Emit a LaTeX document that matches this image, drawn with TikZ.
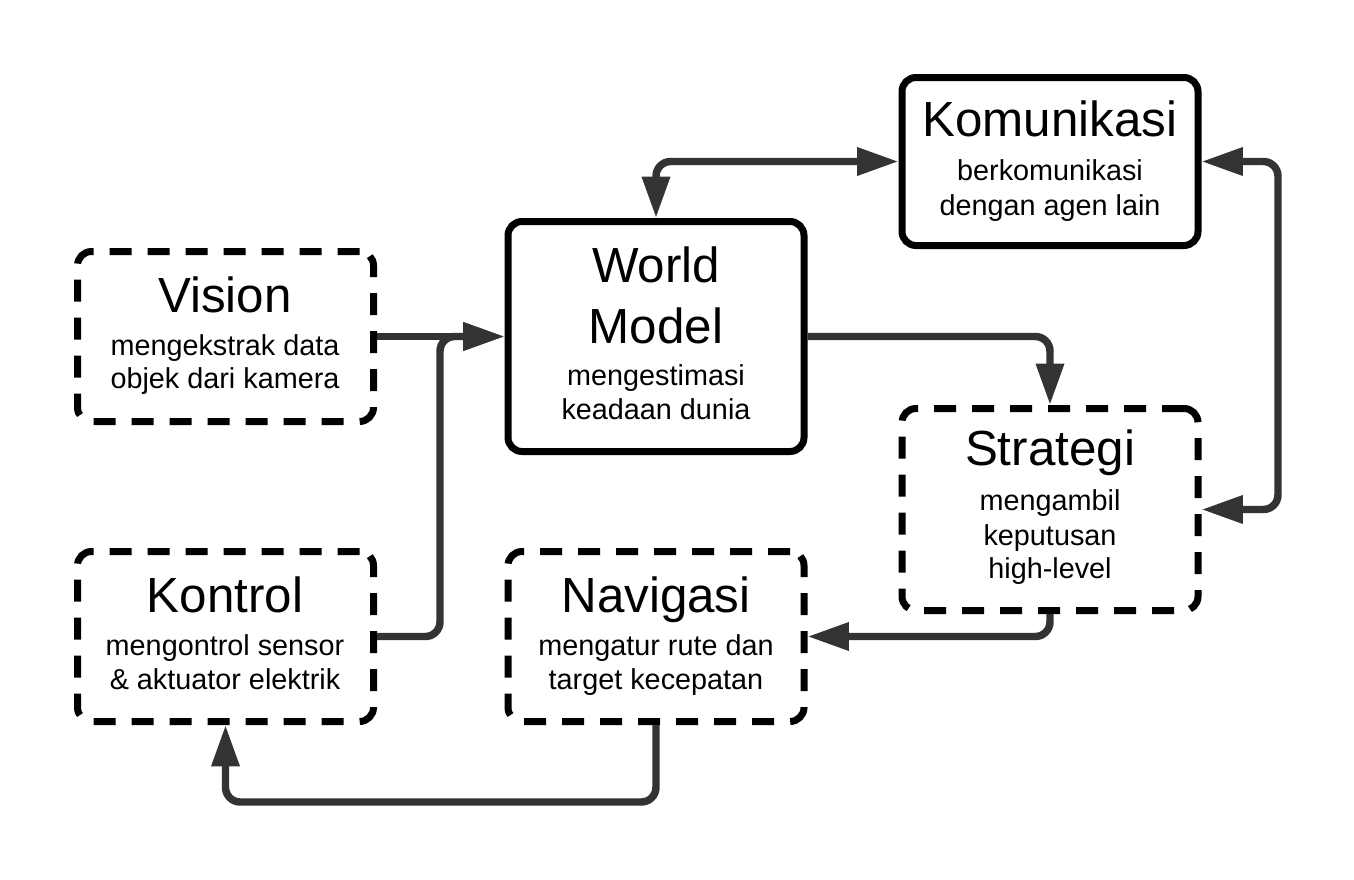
\documentclass[tikz,border=0pt]{standalone}
\usepackage{fontspec}
\setmainfont{Liberation Sans}
\usetikzlibrary{arrows.meta}
\definecolor{connc}{HTML}{333333}
\begin{document}
\begin{tikzpicture}[x=0.75pt,y=-0.75pt,
  box/.style={draw=black, line width=5.25pt, rounded corners=10.5pt, minimum width=222pt, inner sep=0pt},
  dbox/.style={box, dash pattern=on 16.5pt off 12pt},
  ttl/.style={anchor=base, font=\fontsize{37}{44}\selectfont, inner sep=0pt},
  sub/.style={anchor=base, font=\fontsize{21.6}{26}\selectfont, inner sep=0pt},
  tip/.tip={Triangle[length=31pt,width=20pt]},
  conn/.style={draw=connc, fill=none, line width=5.6pt, rounded corners=11pt, -tip},
  conn2/.style={conn, tip-tip},
]
\fill[white] (0,0) rectangle (1354,879);
\useasboundingbox (0,0) rectangle (1354,879);

% boxes
\node[dbox, minimum height=127.5pt] (vision) at (225.5,336.5) {};
\node[dbox, minimum height=127.5pt] (kontrol) at (225.5,636.5) {};
\node[box,  minimum height=172.5pt] (wm) at (656,336.5) {};
\node[dbox, minimum height=127.5pt] (navi) at (656,636.5) {};
\node[box,  minimum height=126pt] (komu) at (1050,161.5) {};
\node[dbox, minimum height=151.5pt] (strat) at (1050,509.5) {};

% texts
\node[ttl] (visionT) at (225,312) {Vision};
\node[sub] (visionS1) at (225,355) {mengekstrak data};
\node[sub] (visionS2) at (225,388) {objek dari kamera};

\node[ttl] (kontrolT) at (225,612) {Kontrol};
\node[sub] (kontrolS1) at (225,655) {mengontrol sensor};
\node[sub] (kontrolS2) at (225,689) {\& aktuator elektrik};

\node[ttl] (naviT) at (656,612) {Navigasi};
\node[sub] (naviS1) at (656,655) {mengatur rute dan};
\node[sub] (naviS2) at (656,689) {target kecepatan};

\node[ttl] (wmT1) at (656,282) {World};
\node[ttl] (wmT2) at (656,343) {Model};
\node[sub] (wmS1) at (656,385) {mengestimasi};
\node[sub] (wmS2) at (656,419) {keadaan dunia};

\node[ttl] (komuT) at (1050,136) {Komunikasi};
\node[sub] (komuS1) at (1050,180) {berkomunikasi};
\node[sub] (komuS2) at (1050,215) {dengan agen lain};

\node[ttl] (stratT) at (1050,465) {Strategi};
\node[sub] (stratS1) at (1050,510) {mengambil};
\node[sub] (stratS2) at (1050,545) {keputusan};
\node[sub] (stratS3) at (1050,578) {high-level};

% helper coordinates
\coordinate (jn) at (440,336.5);
\coordinate (rr) at (1278,336.5);
\coordinate (bot) at (440,802);

% connectors
\draw[conn] (kontrol.east) -| (jn) -- (jn -| wm.west);
\draw[conn] (vision.east) -- (vision.east -| wm.west);
\draw[conn] (wm.east) -| (strat.north);
\draw[conn2] (komu.west) -| (wm.north);
\draw[conn2] (komu.east) -- (komu.east -| rr) -- (strat.east -| rr) -- (strat.east);
\draw[conn] (strat.south) |- (navi.east);
\draw[conn] (navi.south) -- (navi.south |- bot) -- (kontrol.south |- bot) -- (kontrol.south);
\end{tikzpicture}
\end{document}
